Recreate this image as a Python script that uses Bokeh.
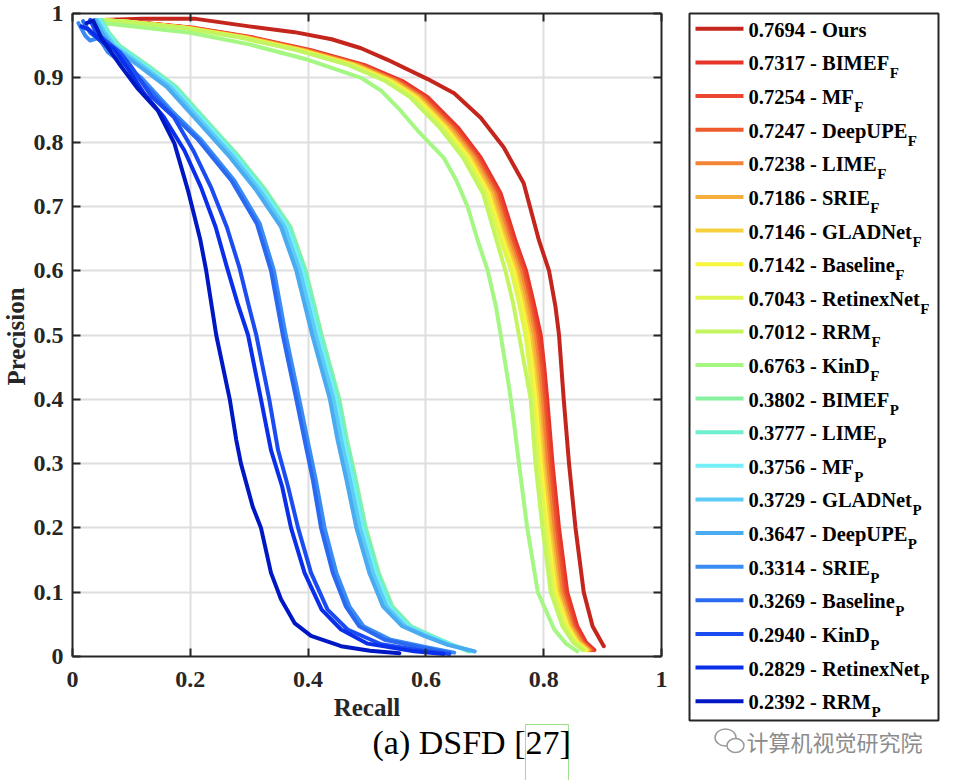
from bokeh.plotting import figure
from bokeh.models import Range1d, FixedTicker, LinearAxis
from bokeh.layouts import row, column
from bokeh.embed import file_html
from bokeh.resources import INLINE
from bokeh.core.properties import value

FONT = "Liberation Serif"
CJK = "Noto Sans CJK SC"
AX = "#262626"

# ---------------- data ----------------
names = ["Ours", "BIMEF", "MF", "DeepUPE", "LIME", "SRIE", "GLADNet", "Baseline",
         "RetinexNet", "RRM", "KinD", "BIMEF", "LIME", "MF", "GLADNet", "DeepUPE",
         "SRIE", "Baseline", "KinD", "RetinexNet", "RRM"]
subs = ["", "F", "F", "F", "F", "F", "F", "F", "F", "F", "F",
        "P", "P", "P", "P", "P", "P", "P", "P", "P", "P"]
aps = ["0.7694", "0.7317", "0.7254", "0.7247", "0.7238", "0.7186", "0.7146", "0.7142",
       "0.7043", "0.7012", "0.6763", "0.3802", "0.3777", "0.3756", "0.3729", "0.3647",
       "0.3314", "0.3269", "0.2940", "0.2829", "0.2392"]
colors = ["#C4261D", "#E8352A", "#EC4530", "#EE5A2E", "#F28436", "#F5AE3C", "#F7D13D",
          "#F9F53A", "#E1F551", "#C2F55F", "#A3F782", "#86F2A0", "#6EEFCD", "#73F0F7",
          "#5CCBF5", "#4AABF0", "#3B8CF2", "#2A6AF0", "#1A4CF2", "#0A2FEA", "#0018C4"]

# Ours
ours_r = [0.05, 0.12, 0.207, 0.30, 0.377, 0.44, 0.49, 0.535, 0.603, 0.648, 0.693, 0.732,
          0.766, 0.792, 0.809, 0.820, 0.826, 0.834, 0.843, 0.854, 0.868, 0.883, 0.902]
ours_p = [0.99, 0.992, 0.992, 0.98, 0.971, 0.96, 0.946, 0.928, 0.898, 0.876, 0.838, 0.792,
          0.736, 0.647, 0.600, 0.544, 0.500, 0.400, 0.300, 0.200, 0.100, 0.047, 0.016]

# shared precision levels of the F cluster (without KinD_F)
f_p = [0.99, 0.987, 0.978, 0.963, 0.943, 0.92, 0.895, 0.87, 0.823, 0.776, 0.72, 0.647,
       0.60, 0.55, 0.50, 0.45, 0.40, 0.30, 0.20, 0.10, 0.047, 0.022, 0.010]
bimef_f_r = [0.045, 0.100, 0.205, 0.305, 0.405, 0.495, 0.560, 0.603, 0.654, 0.693, 0.727, 0.752,
             0.770, 0.783, 0.795, 0.801, 0.806, 0.815, 0.826, 0.840, 0.857, 0.872, 0.886]
mf_f_r = [0.045, 0.098, 0.200, 0.300, 0.400, 0.490, 0.555, 0.598, 0.649, 0.689, 0.723, 0.748,
          0.766, 0.779, 0.790, 0.797, 0.802, 0.811, 0.822, 0.836, 0.853, 0.868, 0.882]
deepupe_f_r = [0.046, 0.097, 0.198, 0.298, 0.398, 0.488, 0.552, 0.595, 0.646, 0.686, 0.720, 0.745,
               0.763, 0.776, 0.787, 0.794, 0.799, 0.808, 0.819, 0.833, 0.850, 0.866, 0.880]
lime_f_r = [0.046, 0.096, 0.196, 0.296, 0.395, 0.485, 0.549, 0.592, 0.643, 0.683, 0.717, 0.742,
            0.760, 0.773, 0.784, 0.791, 0.796, 0.805, 0.816, 0.830, 0.848, 0.864, 0.878]
srie_f_r = [0.047, 0.095, 0.194, 0.293, 0.392, 0.481, 0.545, 0.588, 0.639, 0.679, 0.713, 0.738,
            0.756, 0.769, 0.780, 0.787, 0.792, 0.801, 0.812, 0.826, 0.845, 0.861, 0.876]
gladnet_f_r = [0.046, 0.094, 0.192, 0.290, 0.389, 0.478, 0.542, 0.585, 0.635, 0.675, 0.709, 0.734,
               0.752, 0.765, 0.776, 0.783, 0.789, 0.798, 0.809, 0.823, 0.842, 0.858, 0.874]
baseline_f_r = [0.037, 0.093, 0.190, 0.288, 0.386, 0.475, 0.539, 0.582, 0.632, 0.672, 0.706, 0.731,
                0.749, 0.762, 0.773, 0.780, 0.786, 0.795, 0.806, 0.820, 0.840, 0.856, 0.872]
retinexnet_f_r = [0.048, 0.092, 0.188, 0.285, 0.383, 0.471, 0.535, 0.578, 0.628, 0.668, 0.702, 0.727,
                  0.745, 0.758, 0.769, 0.776, 0.782, 0.791, 0.803, 0.817, 0.837, 0.853, 0.869]
rrm_f_r = [0.049, 0.090, 0.185, 0.282, 0.380, 0.468, 0.531, 0.573, 0.623, 0.663, 0.697, 0.720,
           0.735, 0.748, 0.758, 0.768, 0.778, 0.786, 0.798, 0.812, 0.832, 0.850, 0.866]

kind_f_r = [0.054, 0.10, 0.20, 0.30, 0.40, 0.49, 0.524, 0.556, 0.586, 0.630, 0.652, 0.671,
            0.688, 0.705, 0.719, 0.727, 0.741, 0.749, 0.758, 0.772, 0.790, 0.818, 0.838, 0.857]
kind_f_p = [0.985, 0.980, 0.970, 0.952, 0.928, 0.900, 0.880, 0.850, 0.818, 0.776, 0.740, 0.699,
            0.647, 0.600, 0.544, 0.500, 0.420, 0.368, 0.300, 0.200, 0.100, 0.042, 0.020, 0.008]

# shared precision levels of the cyan P cluster
c_p = [0.99, 0.97, 0.95, 0.917, 0.886, 0.834, 0.777, 0.725, 0.668, 0.60, 0.50, 0.40, 0.337,
       0.275, 0.20, 0.13, 0.078, 0.047, 0.032, 0.018, 0.008]
bimef_p_r = [0.050, 0.062, 0.080, 0.131, 0.176, 0.227, 0.283, 0.328, 0.370, 0.396, 0.423, 0.453,
             0.466, 0.481, 0.498, 0.520, 0.543, 0.575, 0.610, 0.645, 0.672]
lime_p_r = [0.048, 0.060, 0.077, 0.128, 0.173, 0.224, 0.280, 0.325, 0.367, 0.393, 0.420, 0.450,
            0.463, 0.478, 0.495, 0.517, 0.540, 0.572, 0.608, 0.645, 0.675]
mf_p_r = [0.046, 0.058, 0.074, 0.125, 0.170, 0.221, 0.277, 0.322, 0.364, 0.390, 0.417, 0.447,
          0.460, 0.475, 0.492, 0.514, 0.537, 0.569, 0.605, 0.643, 0.680]
gladnet_p_r = [0.042, 0.055, 0.071, 0.121, 0.166, 0.217, 0.273, 0.318, 0.360, 0.386, 0.413, 0.443,
               0.456, 0.471, 0.488, 0.510, 0.533, 0.565, 0.601, 0.640, 0.682]
deepupe_p_r = [0.038, 0.050, 0.066, 0.115, 0.160, 0.211, 0.267, 0.312, 0.354, 0.380, 0.407, 0.437,
               0.450, 0.465, 0.482, 0.504, 0.527, 0.560, 0.597, 0.637, 0.683]

srie_p_r = [0.010, 0.022, 0.030, 0.045, 0.060, 0.117, 0.168, 0.219, 0.275, 0.318, 0.342, 0.362,
            0.385, 0.399, 0.413, 0.428, 0.448, 0.470, 0.494, 0.540, 0.605, 0.648]
srie_p_p = [0.985, 0.965, 0.958, 0.962, 0.940, 0.900, 0.849, 0.803, 0.740, 0.673, 0.600, 0.500,
            0.400, 0.337, 0.275, 0.200, 0.130, 0.078, 0.047, 0.026, 0.0135, 0.006]
baseline_p_r = [0.018, 0.030, 0.042, 0.055, 0.070, 0.112, 0.163, 0.214, 0.270, 0.313, 0.337, 0.357,
                0.380, 0.394, 0.408, 0.422, 0.442, 0.464, 0.487, 0.530, 0.595, 0.640]
baseline_p_p = [0.988, 0.970, 0.962, 0.950, 0.945, 0.900, 0.849, 0.803, 0.740, 0.673, 0.600, 0.500,
                0.400, 0.337, 0.275, 0.200, 0.130, 0.078, 0.047, 0.026, 0.0135, 0.006]

kind_p_r = [0.030, 0.040, 0.060, 0.080, 0.100, 0.135, 0.172, 0.205, 0.235, 0.262, 0.283, 0.298,
            0.312, 0.334, 0.349, 0.366, 0.383, 0.405, 0.433, 0.467, 0.524, 0.603, 0.640]
kind_p_p = [0.990, 0.970, 0.955, 0.940, 0.917, 0.870, 0.839, 0.787, 0.730, 0.668, 0.606, 0.550,
            0.500, 0.400, 0.321, 0.264, 0.200, 0.130, 0.073, 0.042, 0.019, 0.008, 0.004]
retinexnet_p_r = [0.015, 0.028, 0.045, 0.070, 0.092, 0.122, 0.155, 0.190, 0.218, 0.243, 0.262, 0.280,
                  0.298, 0.320, 0.337, 0.356, 0.371, 0.394, 0.423, 0.456, 0.501, 0.580, 0.630]
retinexnet_p_p = [0.980, 0.975, 0.960, 0.945, 0.917, 0.875, 0.839, 0.787, 0.730, 0.668, 0.606, 0.550,
                  0.500, 0.400, 0.321, 0.264, 0.200, 0.130, 0.073, 0.042, 0.020, 0.008, 0.004]
rrm_p_r = [0.024, 0.035, 0.050, 0.083, 0.111, 0.145, 0.173, 0.196, 0.217, 0.227, 0.244, 0.267,
           0.278, 0.286, 0.306, 0.320, 0.337, 0.354, 0.377, 0.405, 0.456, 0.505, 0.555]
rrm_p_p = [0.985, 0.989, 0.960, 0.917, 0.883, 0.849, 0.798, 0.725, 0.648, 0.600, 0.500, 0.400,
           0.337, 0.300, 0.233, 0.200, 0.130, 0.089, 0.052, 0.032, 0.016, 0.009, 0.005]

curves = [
    (ours_r, ours_p), (bimef_f_r, f_p), (mf_f_r, f_p), (deepupe_f_r, f_p), (lime_f_r, f_p),
    (srie_f_r, f_p), (gladnet_f_r, f_p), (baseline_f_r, f_p), (retinexnet_f_r, f_p),
    (rrm_f_r, f_p), (kind_f_r, kind_f_p),
    (bimef_p_r, c_p), (lime_p_r, c_p), (mf_p_r, c_p), (gladnet_p_r, c_p), (deepupe_p_r, c_p),
    (srie_p_r, srie_p_p), (baseline_p_r, baseline_p_p), (kind_p_r, kind_p_p),
    (retinexnet_p_r, retinexnet_p_p), (rrm_p_r, rrm_p_p),
]

x_ticks = [0, 0.2, 0.4, 0.6, 0.8, 1]
x_tick_labels = ["0", "0.2", "0.4", "0.6", "0.8", "1"]
y_ticks = [0, 0.1, 0.2, 0.3, 0.4, 0.5, 0.6, 0.7, 0.8, 0.9, 1]
y_tick_labels = ["0", "0.1", "0.2", "0.3", "0.4", "0.5", "0.6", "0.7", "0.8", "0.9", "1"]
y_title = "Precision"
x_title = "Recall"

TOP_H = 723
LAB_W = 30

def no_align(f):
    try:
        f.frame_align = False
    except (AttributeError, ValueError):
        pass
    return f

def blank_fig(w, h, flip=True):
    f = figure(frame_width=w, frame_height=h, x_range=Range1d(0, w),
               y_range=Range1d(h, 0) if flip else Range1d(0, h),
               output_backend="svg", toolbar_location=None, min_border=0,
               x_axis_location=None, y_axis_location=None)
    f.outline_line_color = None
    f.grid.visible = False
    f.background_fill_color = "white"
    f.border_fill_color = "white"
    return no_align(f)

# ---------------- y title strip ----------------
yl = blank_fig(LAB_W, TOP_H, flip=False)
yl.text(x=[15.5], y=[TOP_H - 336], text=[y_title], text_font=value(FONT), text_font_style="bold",
        text_font_size="25px", text_color=AX, text_align="center", text_baseline="middle",
        angle=1.5708)

# ---------------- main plot ----------------
p = figure(width=657, height=TOP_H, x_range=Range1d(0, 1), y_range=Range1d(0, 1),
           output_backend="svg", toolbar_location=None,
           min_border_left=71 - LAB_W, min_border_right=26, min_border_top=13,
           min_border_bottom=TOP_H - 13 - 644)
no_align(p)
p.outline_line_color = None
p.background_fill_color = "white"
p.border_fill_color = "white"

for g, t in ((p.xgrid[0], x_ticks), (p.ygrid[0], y_ticks)):
    g.ticker = FixedTicker(ticks=t)
    g.grid_line_color = "#DEDEDE"
    g.grid_line_width = 2

def style_axis(ax, ticks, labels, standoff):
    ax.ticker = FixedTicker(ticks=ticks)
    ax.major_label_overrides = dict(zip(ticks, labels))
    ax.major_tick_in = 8
    ax.major_tick_out = 0
    ax.major_tick_line_width = 2
    ax.major_tick_line_color = AX
    ax.minor_tick_line_color = None
    ax.axis_line_width = 2
    ax.axis_line_color = AX
    ax.major_label_text_font = FONT
    ax.major_label_text_font_style = "bold"
    ax.major_label_text_font_size = "24px"
    ax.major_label_text_color = AX
    ax.major_label_standoff = standoff

style_axis(p.below[0], x_ticks, x_tick_labels, 15)
style_axis(p.left[0], y_ticks, y_tick_labels, 9)
xa = p.below[0]
xa.axis_label = x_title
xa.axis_label_text_font = FONT
xa.axis_label_text_font_style = "bold"
xa.axis_label_text_font_size = "25px"
xa.axis_label_text_color = AX
xa.axis_label_standoff = 4

for loc, t in (("right", y_ticks), ("above", x_ticks)):
    ax = LinearAxis(ticker=FixedTicker(ticks=t))
    ax.major_tick_in = 8
    ax.major_tick_out = 0
    ax.major_tick_line_width = 2
    ax.major_tick_line_color = AX
    ax.minor_tick_line_color = None
    ax.axis_line_width = 2
    ax.axis_line_color = AX
    ax.major_label_text_color = None
    ax.major_label_text_font_size = "1px"
    ax.major_label_standoff = 0
    p.add_layout(ax, loc)

for (r, pr), c in zip(curves, colors):
    p.line(x=r, y=pr, line_color=c, line_width=4, line_join="round", line_cap="round")

# ---------------- legend ----------------
LW = 267
lg = blank_fig(LW, TOP_H)
lg.quad(left=[2], right=[251], top=[13], bottom=[720], fill_color="white",
        line_color=AX, line_width=2)

W_BOLD = {"0": 500, "1": 500, "2": 500, "3": 500, "4": 500, "5": 500, "6": 500, "7": 500,
          "8": 500, "9": 500, ".": 250, " ": 250, "-": 333, "O": 778, "u": 556, "r": 444,
          "s": 389, "B": 667, "I": 389, "M": 944, "E": 667, "F": 611, "D": 722, "e": 444,
          "p": 556, "U": 722, "P": 611, "L": 667, "S": 556, "R": 722, "G": 778, "A": 722,
          "N": 722, "t": 333, "a": 500, "l": 278, "i": 278, "n": 556, "x": 500, "K": 778}
LEG_SIZE = 20.5
y0, dy = 28.3, 33.62
line_y = [y0 + i * dy for i in range(len(names))]
main_txt = [f"{a} - {n}" for a, n in zip(aps, names)]

lg.segment(x0=[8] * len(names), x1=[56] * len(names), y0=line_y, y1=line_y,
           line_color=colors, line_width=4)
lg.text(x=[61] * len(names), y=[v + 1 for v in line_y], text=main_txt,
        text_font=value(FONT), text_font_style="bold", text_font_size=f"{LEG_SIZE}px",
        text_color="black", text_baseline="middle", text_align="left")

sx, sy, st = [], [], []
for t, s, v in zip(main_txt, subs, line_y):
    if s:
        sx.append(61 + sum(W_BOLD[ch] for ch in t) * LEG_SIZE / 1000.0 + 0.5)
        sy.append(v + 11)
        st.append(s)
lg.text(x=sx, y=sy, text=st, text_font=value(FONT), text_font_style="bold",
        text_font_size="15px", text_color="black", text_baseline="middle",
        text_align="left")

# ---------------- caption strip ----------------
CW, CH = 954, 780 - TOP_H
cap = blank_fig(CW, CH)

CAP_SIZE = 34
W_REG = {"(": 333, "a": 444, ")": 333, " ": 250, "D": 722, "S": 556, "F": 556, "[": 333,
         "2": 500, "7": 500, "]": 333}
caption = "(a) DSFD [27]"
cap_left = 372
box_l = cap_left + sum(W_REG[ch] for ch in "(a) DSFD [") * CAP_SIZE / 1000.0
box_r = box_l + 43
cap.quad(left=[box_l], right=[box_r], top=[1], bottom=[CH + 5], fill_color=None,
         line_color="#9ADF86", line_width=1)
cap.text(x=[cap_left], y=[19], text=[caption], text_font=value(FONT),
         text_font_size=f"{CAP_SIZE}px", text_color="black", text_baseline="middle",
         text_align="left")

# watermark
cap.ellipse(x=[725], y=[14], width=[21], height=[17], fill_color="white",
            line_color="#9A9A9A", line_width=1.5)
cap.ellipse(x=[735], y=[22], width=[17], height=[14], fill_color="white",
            line_color="#9A9A9A", line_width=1.5)
cap.text(x=[746], y=[17], text=["计算机视觉研究院"], text_font=value(CJK),
         text_font_size="22px", text_color="#8C8C8C", text_baseline="middle",
         text_align="left")

layout = column(row(yl, p, lg), cap)
open("out.html", "w").write(file_html(layout, INLINE))
